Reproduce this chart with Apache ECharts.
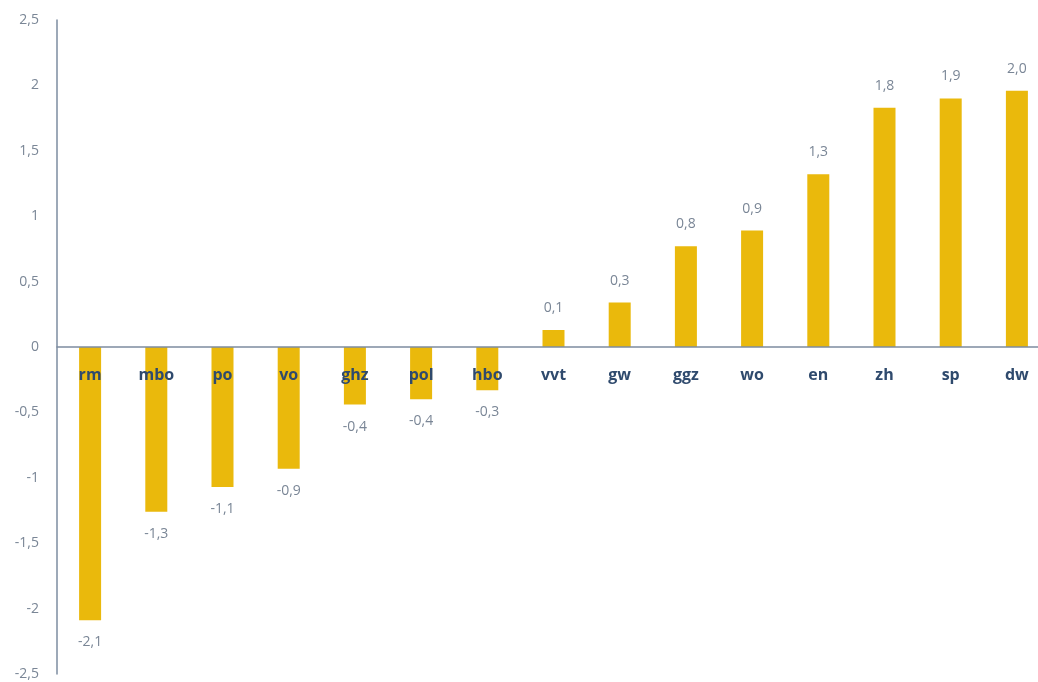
<!DOCTYPE html>
<html><head><meta charset="utf-8">
<script src="https://cdn.jsdelivr.net/npm/echarts@6/dist/echarts.min.js"></script>
<style>html,body{margin:0;padding:0;background:#fff}#c{width:1038px;height:682px}</style>
</head><body><div id="c"></div>
<script>
const categories = ['rm','mbo','po','vo','ghz','pol','hbo','vvt','gw','ggz','wo','en','zh','sp','dw'];
const values = [-2.09,-1.26,-1.07,-0.93,-0.44,-0.40,-0.33,0.13,0.34,0.77,0.89,1.32,1.83,1.90,1.96];
const yTicks = {min:-2.5, max:2.5, interval:0.5};
const fmt = v => String(v).replace('.', ',');
const gridTop = 20, gridBottom = 8, H = 682;
const zeroOffset = -((H - gridTop - gridBottom) / 2);
const chart = echarts.init(document.getElementById('c'));
chart.setOption({
  animation:false,
  grid:{left:57,right:-12,top:gridTop,bottom:gridBottom,containLabel:false,outerBoundsMode:'none'},
  xAxis:{type:'category',data:categories,z:10,position:'bottom',offset:zeroOffset,
    axisLine:{onZero:false,lineStyle:{color:'#7d8ca0',width:1.5}},
    axisTick:{show:false},
    axisLabel:{margin:20,color:'#2f4a6d',fontWeight:'bold',fontSize:16,fontFamily:'Open Sans'}},
  yAxis:{type:'value',min:yTicks.min,max:yTicks.max,interval:yTicks.interval,
    axisLine:{show:true,lineStyle:{color:'#7d8ca0',width:1.5}},
    axisTick:{show:false},splitLine:{show:false},
    axisLabel:{margin:18,color:'#7a8696',fontSize:14,fontFamily:'Open Sans',formatter:v=>fmt(v)}},
  series:[{type:'bar',data:values,barWidth:22,itemStyle:{color:'#EAB90C'},
    label:{show:true,position:'outside',distance:15,color:'#7a8696',fontSize:14,fontFamily:'Open Sans',
      formatter:p=>p.value.toFixed(1).replace('.',',')}}]
});
</script></body></html>
